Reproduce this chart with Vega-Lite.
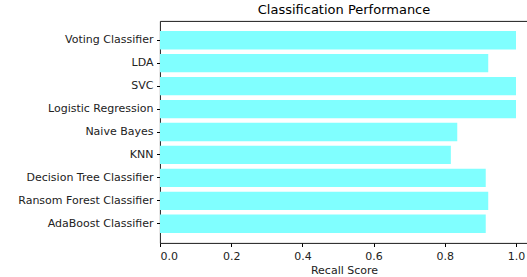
{
  "$schema": "https://vega.github.io/schema/vega-lite/v6.json",
  "autosize": "none",
  "padding": {"left": 160, "top": 21, "right": 0, "bottom": 34},
  "width": 368,
  "height": 222,
  "background": "white",
  "title": {"text": "Classification Performance", "font": "DejaVu Sans", "fontSize": 13, "fontWeight": "normal", "color": "black", "offset": 4, "anchor": "middle"},
  "config": {
    "view": {"stroke": "black", "strokeWidth": 0.9},
    "axis": {"labelFont": "DejaVu Sans", "titleFont": "DejaVu Sans", "labelFontSize": 11, "titleFontSize": 11, "labelColor": "#222222", "titleColor": "#222222", "titleFontWeight": "normal", "tickColor": "black", "domainColor": "black", "grid": false, "tickSize": 3.5, "labelPadding": 3.5}
  },
  "data": {"values": [
    {"model": "Voting Classifier", "recall": 1.0},
    {"model": "LDA", "recall": 0.922},
    {"model": "SVC", "recall": 1.0},
    {"model": "Logistic Regression", "recall": 1.0},
    {"model": "Naive Bayes", "recall": 0.835},
    {"model": "KNN", "recall": 0.817},
    {"model": "Decision Tree Classifier", "recall": 0.915},
    {"model": "Ransom Forest Classifier", "recall": 0.922},
    {"model": "AdaBoost Classifier", "recall": 0.915}
  ]},
  "mark": {"type": "bar", "color": "#80ffff", "opacity": 1},
  "encoding": {
    "y": {"field": "model", "type": "nominal", "sort": null, "title": null,
          "scale": {"paddingInner": 0.2, "paddingOuter": 0.44},
          "axis": {"domain": false}},
    "x": {"field": "recall", "type": "quantitative", "title": "Recall Score",
          "scale": {"domain": [0, 1.0337], "nice": false, "zero": true},
          "axis": {"values": [0, 0.2, 0.4, 0.6, 0.8, 1.0], "format": ".1f", "domain": false, "titlePadding": 3}}
  }
}
